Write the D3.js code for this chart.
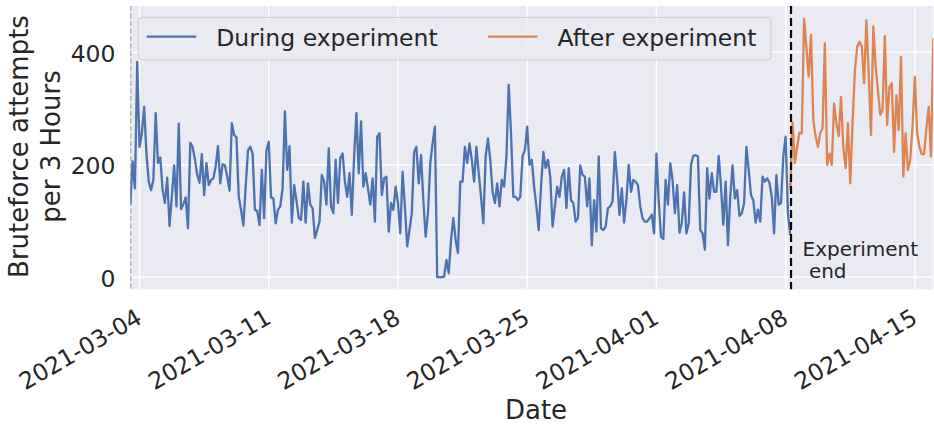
<!DOCTYPE html>
<html>
<head>
<meta charset="utf-8">
<script src="https://cdn.jsdelivr.net/npm/d3@7"></script>
<style>
  html, body { margin: 0; padding: 0; background: #ffffff; }
  svg { display: block; font-family: "DejaVu Sans", sans-serif; }
</style>
</head>
<body>
<svg id="chart" width="934" height="426"></svg>
<script>
// Series start times, sampled every 3 hours
const duringStart = "2021-03-03T12:00:00Z";
const afterStart = "2021-04-08T06:00:00Z";
const stepHours = 3;

// Bruteforce attempts per 3-hour bin while the experiment was running
const duringValues = [
  130, 206, 158, 383, 232, 256, 303, 220, 170, 155, 173, 292, 203, 213, 155, 132, 177, 91, 143, 199,
  126, 273, 121, 130, 142, 87, 239, 232, 210, 182, 168, 219, 146, 203, 164, 173, 176, 197, 233, 167,
  201, 199, 179, 154, 274, 253, 249, 143, 120, 92, 161, 226, 232, 220, 120, 118, 93, 191, 105, 226,
  241, 142, 140, 96, 120, 126, 158, 295, 191, 233, 97, 164, 137, 105, 102, 170, 97, 167, 129, 123,
  70, 84, 99, 182, 170, 129, 229, 126, 114, 209, 132, 212, 220, 170, 143, 185, 111, 215, 292, 185,
  277, 161, 185, 158, 129, 176, 99, 250, 256, 146, 176, 179, 81, 132, 120, 161, 132, 78, 188, 126,
  55, 84, 114, 223, 232, 167, 217, 137, 72, 114, 203, 238, 268, 0, 0, 0, 1, 31, 7, 66,
  105, 66, 43, 170, 170, 232, 203, 238, 209, 170, 232, 185, 143, 96, 215, 247, 209, 152, 132, 167,
  126, 173, 161, 215, 342, 256, 143, 143, 137, 143, 215, 226, 268, 200, 209, 161, 126, 84, 161, 223,
  194, 209, 179, 90, 126, 161, 143, 179, 191, 123, 194, 137, 132, 99, 105, 199, 182, 179, 126, 176,
  57, 137, 81, 215, 87, 84, 90, 123, 126, 135, 223, 173, 111, 158, 97, 137, 200, 152, 173, 170,
  164, 126, 105, 99, 99, 105, 111, 78, 220, 137, 72, 68, 173, 129, 203, 173, 114, 164, 79, 96,
  151, 78, 96, 200, 216, 217, 215, 84, 78, 49, 194, 140, 185, 152, 152, 216, 161, 93, 170, 57,
  143, 199, 140, 155, 109, 114, 132, 232, 191, 146, 137, 97, 120, 99, 179, 170, 176, 168, 143, 78,
  182, 129, 132, 215, 250, 114, 75
];

// Bruteforce attempts per 3-hour bin after the experiment ended
const afterValues = [
  155, 275, 203, 232, 257, 256, 460, 410, 357, 431, 280, 250, 232, 256, 265, 416, 200, 220, 200, 309,
  274, 251, 321, 232, 194, 274, 167, 274, 366, 410, 419, 410, 345, 457, 363, 253, 446, 375, 333, 289,
  297, 429, 271, 339, 345, 223, 324, 262, 392, 179, 256, 191, 209, 268, 357, 256, 232, 219, 219, 265,
  303, 215, 425
];

const seriesNames = ["During experiment", "After experiment"];
const seriesColors = ["#4C72B0", "#DD8452"];
const xTickDates = ["2021-03-04", "2021-03-11", "2021-03-18", "2021-03-25", "2021-04-01", "2021-04-08", "2021-04-15"];
const yTicks = [0, 200, 400];
const experimentStartTime = "2021-03-03T12:00:00Z";
const experimentEndTime = "2021-04-08T06:00:00Z";
const endLabelLines = ["Experiment", " end"];
const xAxisTitle = "Date";
const yAxisTitleLines = ["Bruteforce attempts", "per 3 Hours"];

const svg = d3.select("#chart");
const TICK_FONT = 23.5;
const LABEL_FONT = 26;
const plot = { left: 130.3, right: 933.3, top: 6, bottom: 289.3 };

const hour = 3600 * 1000;
const toSeries = (start, values) => {
  const t0 = new Date(start).getTime();
  return values.map((v, i) => ({ t: new Date(t0 + i * stepHours * hour), v }));
};
const during = toSeries(duringStart, duringValues);
const after = toSeries(afterStart, afterValues);

const x = d3.scaleUtc()
  .domain([new Date("2021-03-03T12:00:00Z"), new Date("2021-04-16T00:00:00Z")])
  .range([plot.left, plot.right]);
const y = d3.scaleLinear()
  .domain([-21.5, 482.5])
  .range([plot.bottom, plot.top]);

// Axes background
svg.append("rect")
  .attr("x", plot.left).attr("y", plot.top)
  .attr("width", plot.right - plot.left).attr("height", plot.bottom - plot.top)
  .attr("fill", "#EAEAF2");

const xTicks = xTickDates.map(d => new Date(d + "T00:00:00Z"));

// White grid
const grid = svg.append("g").attr("stroke", "#ffffff").attr("stroke-width", 1.5);
grid.selectAll("line.gx").data(xTicks).join("line")
  .attr("x1", d => x(d)).attr("x2", d => x(d))
  .attr("y1", plot.top).attr("y2", plot.bottom);
grid.selectAll("line.gy").data(yTicks).join("line")
  .attr("x1", plot.left).attr("x2", plot.right)
  .attr("y1", d => y(d)).attr("y2", d => y(d));

// Clip for data marks
svg.append("clipPath").attr("id", "plotclip").append("rect")
  .attr("x", plot.left).attr("y", plot.top)
  .attr("width", plot.right - plot.left).attr("height", plot.bottom - plot.top);

const line = d3.line().x(d => x(d.t)).y(d => y(d.v));
const marks = svg.append("g").attr("clip-path", "url(#plotclip)");

// Experiment start marker
marks.append("line")
  .attr("x1", x(new Date(experimentStartTime)) + 0.4).attr("x2", x(new Date(experimentStartTime)) + 0.4)
  .attr("y1", plot.top).attr("y2", plot.bottom)
  .attr("stroke", "#9a9a9a").attr("stroke-width", 1.3).attr("stroke-dasharray", "5,2.5");

marks.append("path").datum(during)
  .attr("d", line).attr("fill", "none")
  .attr("stroke", seriesColors[0]).attr("stroke-width", 2.3).attr("stroke-linejoin", "round");
marks.append("path").datum(after)
  .attr("d", line).attr("fill", "none")
  .attr("stroke", seriesColors[1]).attr("stroke-width", 2.3).attr("stroke-linejoin", "round");

// Experiment end marker
const xEnd = x(new Date(experimentEndTime)) + 0.8;
svg.append("line")
  .attr("x1", xEnd).attr("x2", xEnd)
  .attr("y1", plot.top).attr("y2", plot.bottom)
  .attr("stroke", "#000000").attr("stroke-width", 2.2).attr("stroke-dasharray", "8,4");

const endLabel = svg.append("text")
  .attr("font-size", 20).attr("fill", "#262626")
  .attr("xml:space", "preserve");
endLabel.selectAll("tspan").data(endLabelLines).join("tspan")
  .attr("x", xEnd + 11.5)
  .attr("y", (d, i) => 255.5 + i * 22.5)
  .text(d => d);

// Y axis tick labels
svg.append("g").selectAll("text").data(yTicks).join("text")
  .attr("x", 115.5).attr("y", d => y(d) + 1.5)
  .attr("text-anchor", "end").attr("dominant-baseline", "central")
  .attr("font-size", TICK_FONT).attr("fill", "#262626")
  .text(d => d3.format("d")(d));

// X axis tick labels, rotated 30 degrees and right-aligned under each tick
const fmt = d3.utcFormat("%Y-%m-%d");
svg.append("g").selectAll("text").data(xTicks).join("text")
  .attr("transform", d => `translate(${x(d) + 4},${plot.bottom + 33}) rotate(-30)`)
  .attr("text-anchor", "end")
  .attr("font-size", TICK_FONT).attr("fill", "#262626")
  .text(d => fmt(d));

// Axis titles
svg.append("text")
  .attr("x", 536).attr("y", 419)
  .attr("text-anchor", "middle").attr("font-size", LABEL_FONT).attr("fill", "#262626")
  .text(xAxisTitle);

const yMid = 146.5;
svg.append("g").selectAll("text").data(yAxisTitleLines).join("text")
  .attr("transform", (d, i) => `translate(${27.5 + i * 32.8},${yMid}) rotate(-90)`)
  .attr("text-anchor", "middle").attr("font-size", LABEL_FONT).attr("fill", "#262626")
  .text(d => d);

// Legend
const legend = svg.append("g");
legend.append("rect")
  .attr("x", 138.3).attr("y", 17.3).attr("width", 632.7).attr("height", 42.7)
  .attr("rx", 4).attr("ry", 4)
  .attr("fill", "#EAEAF2").attr("fill-opacity", 0.8)
  .attr("stroke", "#cccccc").attr("stroke-width", 1);
const legendItems = [
  { name: seriesNames[0], color: seriesColors[0], x0: 146.7 },
  { name: seriesNames[1], color: seriesColors[1], x0: 488 }
];
legendItems.forEach(it => {
  legend.append("line")
    .attr("x1", it.x0).attr("x2", it.x0 + 49.5)
    .attr("y1", 36.7).attr("y2", 36.7)
    .attr("stroke", it.color).attr("stroke-width", 2.3);
  legend.append("text")
    .attr("x", it.x0 + 69.5).attr("y", 45.7)
    .attr("font-size", TICK_FONT).attr("fill", "#262626")
    .text(it.name);
});
</script>
</body>
</html>
